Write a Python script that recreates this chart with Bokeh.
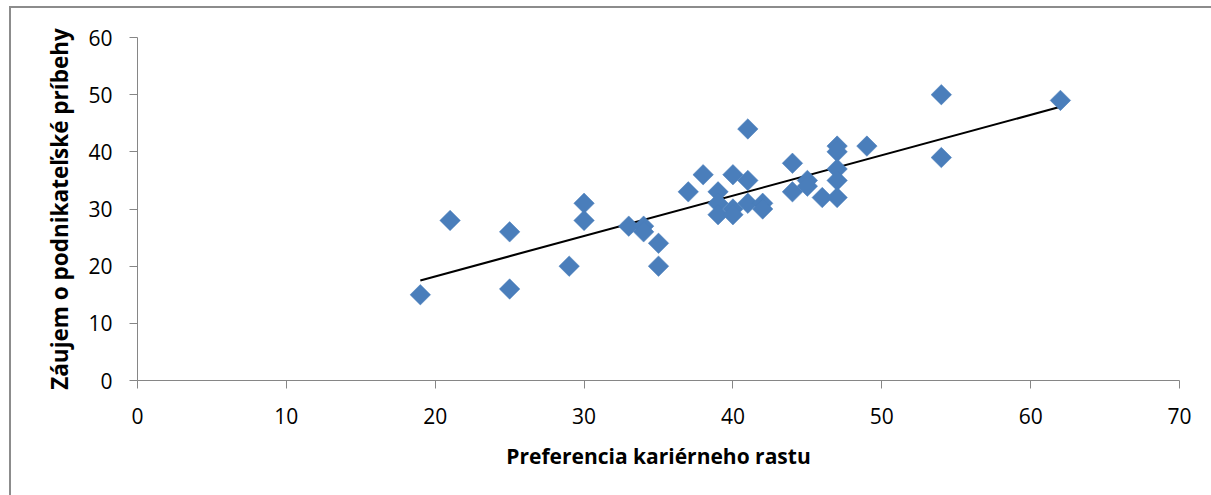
import numpy as np
from bokeh.plotting import figure
from bokeh.models import Range1d, FixedTicker, ColumnDataSource, InlineStyleSheet
from bokeh.embed import file_html
from bokeh.resources import INLINE

# Survey scores: career-growth preference vs. interest in entrepreneurial stories
career_growth = [19, 21, 25, 25, 29, 30, 30, 33, 34, 34, 35, 35, 37, 38, 39, 39, 39,
                 40, 40, 40, 41, 41, 41, 42, 42, 44, 44, 45, 45, 46, 47, 47, 47, 47,
                 47, 49, 54, 54, 62]
story_interest = [15, 28, 26, 16, 20, 31, 28, 27, 27, 26, 24, 20, 33, 36, 33, 31, 29,
                  36, 30, 29, 44, 35, 31, 31, 30, 38, 33, 35, 34, 32, 41, 40, 37, 35,
                  32, 41, 50, 39, 49]

x_ticks = [0, 10, 20, 30, 40, 50, 60, 70]
y_ticks = [0, 10, 20, 30, 40, 50, 60]

x_title = "Preferencia kariérneho rastu"
y_title = "Záujem o podnikateľské príbehy"

FONT = "Open Sans"
AXIS_GRAY = "#868686"
MARKER_BLUE = "#4A7EBB"

p = figure(
    width=1211, height=495,
    x_range=Range1d(0, 70), y_range=Range1d(0, 60),
    output_backend="svg", toolbar_location=None,
    min_border_left=137, min_border_right=32,
    min_border_top=37, min_border_bottom=115,
)
p.background_fill_color = "white"
p.border_fill_color = "white"
p.outline_line_color = None
p.xgrid.visible = False
p.ygrid.visible = False

for ax, ticks in ((p.xaxis[0], x_ticks), (p.yaxis[0], y_ticks)):
    ax.ticker = FixedTicker(ticks=ticks)
    ax.axis_line_color = AXIS_GRAY
    ax.axis_line_width = 1
    ax.major_tick_line_color = AXIS_GRAY
    ax.major_tick_in = 0
    ax.major_tick_out = 8
    ax.minor_tick_line_color = None
    ax.major_label_text_font = FONT
    ax.major_label_text_font_size = "21px"
    ax.major_label_text_color = "black"
    ax.axis_label_text_font = FONT
    ax.axis_label_text_font_style = "bold"
    ax.axis_label_text_color = "black"

p.xaxis.axis_label = x_title
p.yaxis.axis_label = y_title
p.xaxis.axis_label_text_font_size = "21px"
p.yaxis.axis_label_text_font_size = "22.5px"
p.xaxis.major_label_standoff = 19
p.xaxis.axis_label_standoff = 15
p.yaxis.major_label_standoff = 17
p.yaxis.axis_label_standoff = 10

src = ColumnDataSource(dict(x=career_growth, y=story_interest))

# Linear trend line spanning the observed range
slope, intercept = np.polyfit(career_growth, story_interest, 1)
tx = [min(career_growth), max(career_growth)]
ty = [slope * v + intercept for v in tx]
p.line(tx, ty, line_color="black", line_width=2)

p.scatter("x", "y", source=src, marker="square", size=14.5, angle=np.pi / 4,
          fill_color=MARKER_BLUE, line_color=MARKER_BLUE, line_width=0.5)

# Thin gray frame around the chart area (left and top edges lie inside the page)
p.stylesheets = [InlineStyleSheet(css="""
:host { position: relative; }
:host::after {
  content: "";
  position: absolute;
  left: 9px; top: 6px; right: 0; bottom: 0;
  border-left: 2px solid #8C8C8C;
  border-top: 2px solid #8C8C8C;
  pointer-events: none;
}
""")]

open("out.html", "w").write(file_html(p, INLINE))
